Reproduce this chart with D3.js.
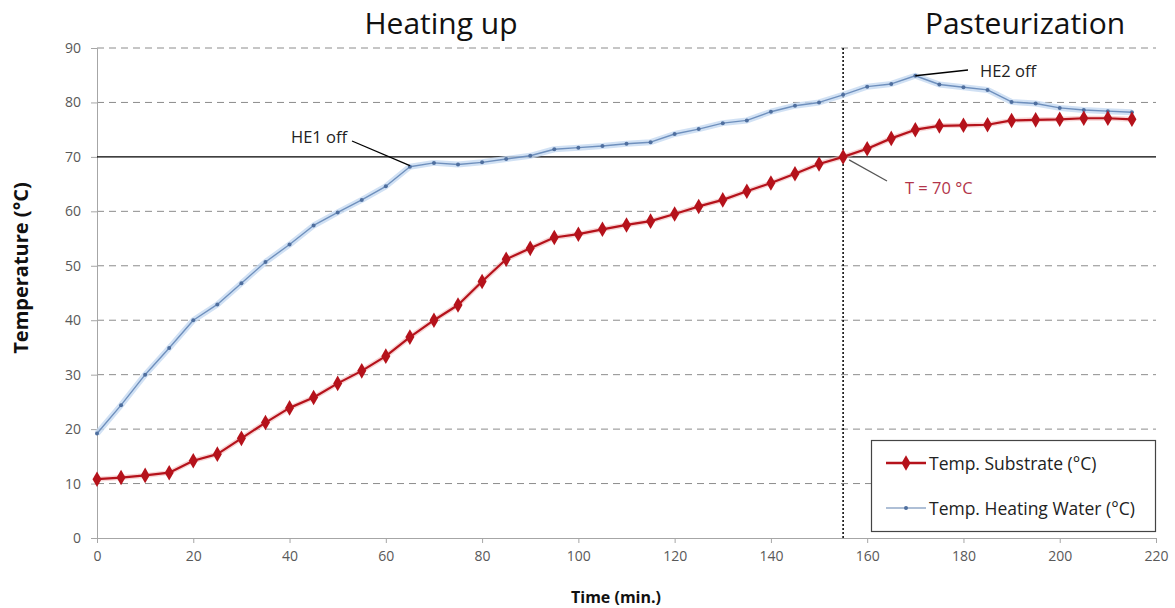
<!DOCTYPE html>
<html><head><meta charset="utf-8">
<script src="https://cdn.jsdelivr.net/npm/d3@7"></script>
<style>body{margin:0;background:#fff}svg{display:block}</style>
</head><body><svg id="c" width="1175" height="608"></svg>
<script>
const times = [0,5,10,15,20,25,30,35,40,45,50,55,60,65,70,75,80,85,90,95,100,105,110,115,120,125,130,135,140,145,150,155,160,165,170,175,180,185,190,195,200,205,210,215];
const substrate = [10.8,11.1,11.5,12.0,14.2,15.4,18.3,21.2,23.9,25.8,28.4,30.7,33.4,36.9,40.0,42.8,47.1,51.2,53.2,55.2,55.8,56.7,57.5,58.2,59.5,60.9,62.1,63.7,65.2,66.9,68.7,70.0,71.5,73.4,75.0,75.7,75.8,75.9,76.7,76.8,76.9,77.1,77.1,76.9];
const heatingWater = [19.2,24.4,30.0,34.9,40.0,42.9,46.8,50.7,53.9,57.4,59.8,62.1,64.6,68.2,68.9,68.6,69.0,69.6,70.2,71.4,71.7,72.0,72.4,72.7,74.2,75.1,76.2,76.7,78.3,79.4,80.0,81.4,82.9,83.4,84.9,83.3,82.8,82.3,80.1,79.8,79.0,78.6,78.4,78.2];
const xTicks = [0,20,40,60,80,100,120,140,160,180,200,220];
const yTicks = [0,10,20,30,40,50,60,70,80,90];
const seriesNames = ["Temp. Substrate (°C)","Temp. Heating Water (°C)"];
const phaseLabels = ["Heating up","Pasteurization"];
const threshold = 70, switchTime = 155;

const svg = d3.select("#c");
const font = "'Open Sans', sans-serif";
const x = d3.scaleLinear().domain([0,220]).range([97,1156]);
const y = d3.scaleLinear().domain([0,90]).range([538,48]);

// gridlines
svg.append("g").selectAll("line").data(yTicks.filter(d=>d!==0 && d!==threshold)).join("line")
  .attr("x1",x(0)).attr("x2",x(220)).attr("y1",d=>y(d)).attr("y2",d=>y(d))
  .attr("stroke","#8c8c8c").attr("stroke-width",1).attr("stroke-dasharray","7,5");

// axes
const ya = svg.append("g").attr("transform",`translate(${x(0)},0)`)
  .call(d3.axisLeft(y).tickValues(yTicks).tickSize(6).tickPadding(10));
const xa = svg.append("g").attr("transform",`translate(0,${y(0)})`)
  .call(d3.axisBottom(x).tickValues(xTicks).tickSize(5).tickPadding(8));
[ya,xa].forEach(a=>{
  a.select(".domain").attr("stroke","#a6a6a6");
  a.selectAll(".tick line").attr("stroke","#a6a6a6");
  a.selectAll("text").attr("fill","#595959").style("font-family",font).style("font-size","14px");
});

// threshold line
svg.append("line").attr("x1",x(0)).attr("x2",x(220)).attr("y1",y(threshold)).attr("y2",y(threshold))
  .attr("stroke","#000").attr("stroke-width",1.3);
// vertical dotted line
svg.append("line").attr("x1",x(switchTime)).attr("x2",x(switchTime)).attr("y1",y(90)).attr("y2",y(0))
  .attr("stroke","#000").attr("stroke-width",1.5).attr("stroke-dasharray","2,2");

// heating water line
const lw = d3.line().x((d,i)=>x(times[i])).y(d=>y(d));
svg.append("path").attr("d",lw(heatingWater)).attr("fill","none")
  .attr("stroke","#c6d9f1").attr("stroke-width",6).attr("stroke-opacity",0.8).attr("stroke-linejoin","round");
svg.append("path").attr("d",lw(heatingWater)).attr("fill","none")
  .attr("stroke","#6f90bd").attr("stroke-width",1.4).attr("stroke-linejoin","round");
svg.append("g").selectAll("circle").data(heatingWater).join("circle")
  .attr("cx",(d,i)=>x(times[i])).attr("cy",d=>y(d)).attr("r",2).attr("fill","#4f6f9f");

// substrate line
svg.append("path").attr("d",lw(substrate)).attr("fill","none")
  .attr("stroke","#f2b8b8").attr("stroke-width",5).attr("stroke-opacity",0.6);
svg.append("path").attr("d",lw(substrate)).attr("fill","none")
  .attr("stroke","#b5121b").attr("stroke-width",2.2).attr("stroke-linejoin","round");
const diamond = d3.symbol().type(d3.symbolDiamond).size(70);
svg.append("g").selectAll("path").data(substrate).join("path")
  .attr("d",diamond).attr("transform",(d,i)=>`translate(${x(times[i])},${y(d)})`)
  .attr("fill","#b5121b");

// annotations
const annSize = "16.5px";
svg.append("line").attr("x1",352).attr("y1",141).attr("x2",x(65)).attr("y2",y(heatingWater[13])-1)
  .attr("stroke","#000").attr("stroke-width",1.3);
svg.append("text").attr("x",291).attr("y",143).text("HE1 off")
  .style("font-family",font).style("font-size",annSize).attr("fill","#222");
svg.append("line").attr("x1",x(170)).attr("y1",y(heatingWater[34])).attr("x2",968).attr("y2",70)
  .attr("stroke","#000").attr("stroke-width",1.3);
svg.append("text").attr("x",980).attr("y",77).text("HE2 off")
  .style("font-family",font).style("font-size",annSize).attr("fill","#222");
svg.append("line").attr("x1",x(155)+6).attr("y1",y(70)+3).attr("x2",887).attr("y2",181)
  .attr("stroke","#555").attr("stroke-width",1.2);
svg.append("text").attr("x",905).attr("y",193.5).text("T = 70 °C")
  .style("font-family",font).style("font-size",annSize).attr("fill","#b2354a");

// phase labels
svg.append("text").attr("x",441).attr("y",33.5).attr("text-anchor","middle").text(phaseLabels[0])
  .style("font-family",font).style("font-size","30px").attr("fill","#111");
svg.append("text").attr("x",1025).attr("y",33.5).attr("text-anchor","middle").text(phaseLabels[1])
  .style("font-family",font).style("font-size","30px").attr("fill","#111");

// axis titles
svg.append("text").attr("transform","translate(28,268) rotate(-90)").attr("text-anchor","middle")
  .text("Temperature (°C)").style("font-family",font).style("font-size","20px").style("font-weight","bold").attr("fill","#111");
svg.append("text").attr("x",616).attr("y",603).attr("text-anchor","middle")
  .text("Time (min.)").style("font-family",font).style("font-size","16px").style("font-weight","bold").attr("fill","#111");

// legend
const lg = svg.append("g");
lg.append("rect").attr("x",871.5).attr("y",440.5).attr("width",284).attr("height",91)
  .attr("fill","#fff").attr("stroke","#444").attr("stroke-width",1.2);
lg.append("line").attr("x1",886).attr("x2",926).attr("y1",463).attr("y2",463).attr("stroke","#b5121b").attr("stroke-width",2.5);
lg.append("path").attr("d",diamond).attr("transform","translate(906,463)").attr("fill","#b5121b");
lg.append("line").attr("x1",886).attr("x2",926).attr("y1",508).attr("y2",508).attr("stroke","#aebfd6").attr("stroke-width",2);
lg.append("circle").attr("cx",906).attr("cy",508).attr("r",2).attr("fill","#4f6f9f");
lg.selectAll("text.l").data(seriesNames).join("text").attr("class","l")
  .attr("x",929).attr("y",(d,i)=>470+i*45).text(d=>d)
  .style("font-family",font).style("font-size","17.5px").attr("fill","#222");
</script></body></html>
